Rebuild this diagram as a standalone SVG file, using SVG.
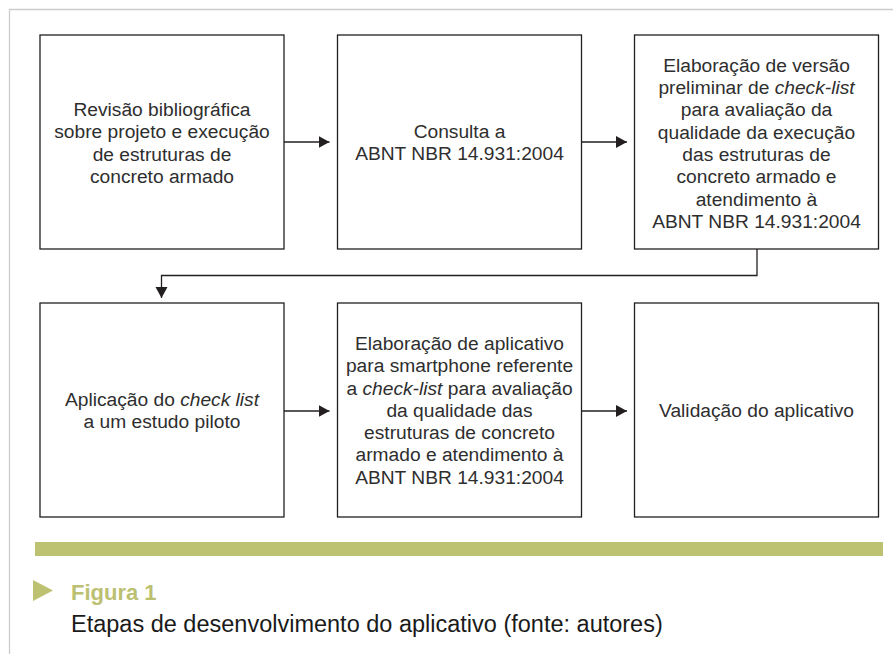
<svg xmlns="http://www.w3.org/2000/svg" width="893" height="654" viewBox="0 0 893 654">
<style>
.box{fill:#fff;stroke:#231f20;stroke-width:1.3}
.t{font-family:"Liberation Sans",Arial,sans-serif;font-size:19.2px;fill:#2e2e2e;text-anchor:middle}
.i{font-style:italic}
.con{fill:none;stroke:#231f20;stroke-width:1.3}
.cap{font-family:"Liberation Sans",Arial,sans-serif;font-size:23.5px;fill:#1a1a1a}
.fig{font-family:"Liberation Sans",Arial,sans-serif;font-size:22px;font-weight:bold;fill:#bcc071}
</style>
<defs>
<marker id="ah" markerUnits="userSpaceOnUse" markerWidth="12" markerHeight="13" refX="11" refY="6" orient="auto">
<path d="M0,0 L11,6 L0,12 z" fill="#231f20"/>
</marker>
</defs>
<rect width="893" height="654" fill="#fff"/>
<path d="M9.5,654 V9.5 H893" fill="none" stroke="#cccccc" stroke-width="1.3"/>

<g id="n1">
<rect class="box" x="40" y="35" width="244" height="214"/>
<text class="t"><tspan x="162" y="116">Revisão bibliográfica</tspan><tspan x="162" y="138.3">sobre projeto e execução</tspan><tspan x="162" y="160.6">de estruturas de</tspan><tspan x="162" y="182.9">concreto armado</tspan></text>
</g>
<g id="n2">
<rect class="box" x="337.5" y="35" width="244" height="214"/>
<text class="t"><tspan x="459.5" y="137.6">Consulta a</tspan><tspan x="459.5" y="159.9">ABNT NBR 14.931:2004</tspan></text>
</g>
<g id="n3">
<rect class="box" x="634.5" y="35" width="244" height="214"/>
<text class="t"><tspan x="756.5" y="71.7">Elaboração de versão</tspan><tspan x="756.5" y="94">preliminar de <tspan class="i">check-list</tspan></tspan><tspan x="756.5" y="116.3">para avaliação da</tspan><tspan x="756.5" y="138.6">qualidade da execução</tspan><tspan x="756.5" y="160.9">das estruturas de</tspan><tspan x="756.5" y="183.2">concreto armado e</tspan><tspan x="756.5" y="205.5">atendimento à</tspan><tspan x="756.5" y="227.8">ABNT NBR 14.931:2004</tspan></text>
</g>
<g id="n4">
<rect class="box" x="40" y="303" width="244" height="214"/>
<text class="t"><tspan x="162" y="405.6">Aplicação do <tspan class="i">check list</tspan></tspan><tspan x="162" y="427.9">a um estudo piloto</tspan></text>
</g>
<g id="n5">
<rect class="box" x="337.5" y="303" width="244" height="214"/>
<text class="t"><tspan x="459.5" y="349.9">Elaboração de aplicativo</tspan><tspan x="459.5" y="372.2">para smartphone referente</tspan><tspan x="459.5" y="394.5">a <tspan class="i">check-list</tspan> para avaliação</tspan><tspan x="459.5" y="416.8">da qualidade das</tspan><tspan x="459.5" y="439.1">estruturas de concreto</tspan><tspan x="459.5" y="461.4">armado e atendimento à</tspan><tspan x="459.5" y="483.7">ABNT NBR 14.931:2004</tspan></text>
</g>
<g id="n6">
<rect class="box" x="634.5" y="303" width="244" height="214"/>
<text class="t"><tspan x="756.5" y="416.8">Validação do aplicativo</tspan></text>
</g>

<g id="connectors">
<path class="con" d="M284,142 H329.5" marker-end="url(#ah)"/>
<path class="con" d="M581.5,142 H627" marker-end="url(#ah)"/>
<path class="con" d="M757,249 V275.5 H161.5 V298" marker-end="url(#ah)"/>
<path class="con" d="M284,411 H329.5" marker-end="url(#ah)"/>
<path class="con" d="M581.5,411 H627" marker-end="url(#ah)"/>
</g>

<g id="caption">
<rect x="35" y="542" width="848" height="14" fill="#bdc172"/>
<path d="M33,580 L53,590.5 L33,601 z" fill="#bdc172"/>
<text class="fig" x="71" y="600">Figura 1</text>
<text class="cap" x="71" y="632">Etapas de desenvolvimento do aplicativo (fonte: autores)</text>
</g>
</svg>
